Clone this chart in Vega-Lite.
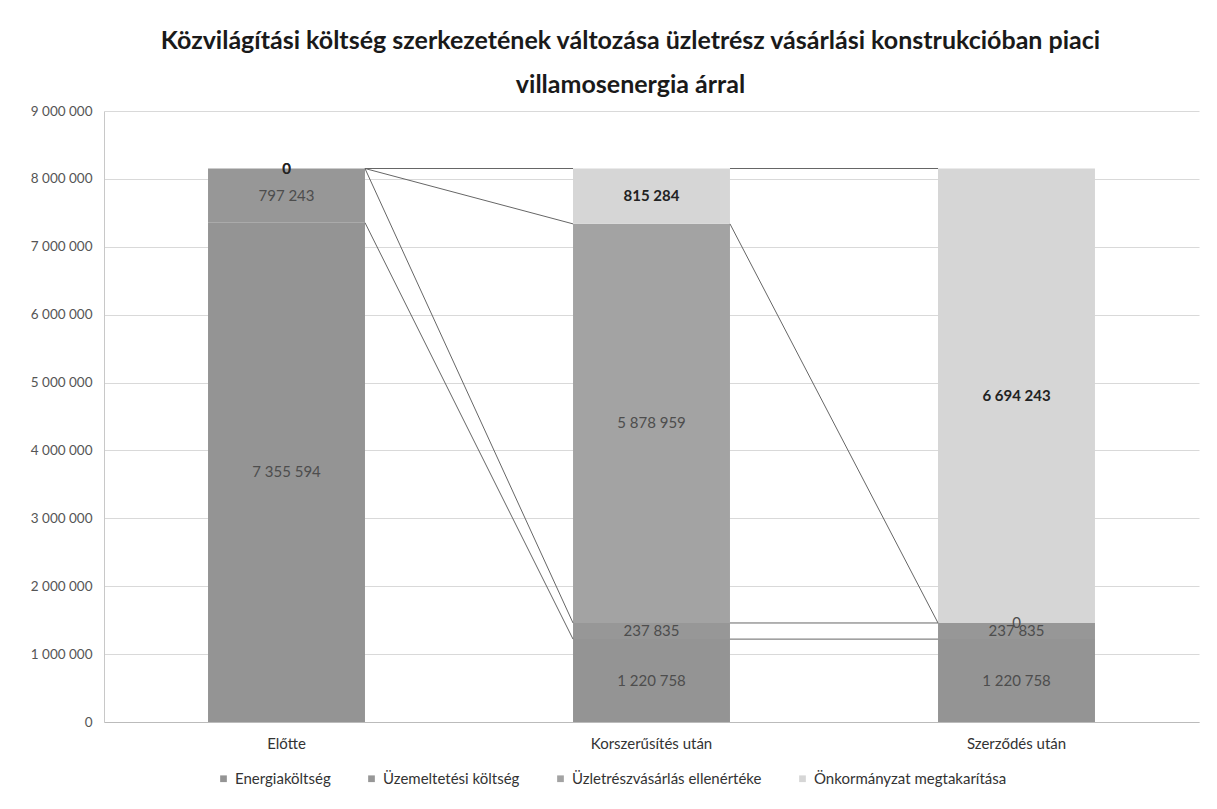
{
  "$schema": "https://vega.github.io/schema/vega-lite/v6.json",
  "width": 1095,
  "height": 611,
  "padding": {"left": 30, "top": 29, "right": 2, "bottom": 5},
  "background": "white",
  "config": {
    "locale": {"number": {"decimal": ",", "thousands": " ", "grouping": [3], "currency": ["", ""]}},
    "font": "Lato",
    "view": {"stroke": null}
  },
  "title": {
    "text": ["Közvilágítási költség szerkezetének változása üzletrész vásárlási konstrukcióban piaci", "villamosenergia árral"],
    "font": "Lato",
    "fontSize": 25,
    "fontWeight": "bold",
    "color": "#1a1a1a",
    "lineHeight": 44,
    "anchor": "middle",
    "frame": "group",
    "dx": -21,
    "offset": 6
  },
  "datasets": {
    "bars": [
      {"kat": "Előtte", "sorozat": "Energiaköltség", "sorrend": 1, "ertek": 7355594},
      {"kat": "Előtte", "sorozat": "Üzemeltetési költség", "sorrend": 2, "ertek": 797243},
      {"kat": "Előtte", "sorozat": "Üzletrészvásárlás ellenértéke", "sorrend": 3, "ertek": 0},
      {"kat": "Előtte", "sorozat": "Önkormányzat megtakarítása", "sorrend": 4, "ertek": 0},
      {"kat": "Korszerűsítés után", "sorozat": "Energiaköltség", "sorrend": 1, "ertek": 1220758},
      {"kat": "Korszerűsítés után", "sorozat": "Üzemeltetési költség", "sorrend": 2, "ertek": 237835},
      {"kat": "Korszerűsítés után", "sorozat": "Üzletrészvásárlás ellenértéke", "sorrend": 3, "ertek": 5878959},
      {"kat": "Korszerűsítés után", "sorozat": "Önkormányzat megtakarítása", "sorrend": 4, "ertek": 815284},
      {"kat": "Szerződés után", "sorozat": "Energiaköltség", "sorrend": 1, "ertek": 1220758},
      {"kat": "Szerződés után", "sorozat": "Üzemeltetési költség", "sorrend": 2, "ertek": 237835},
      {"kat": "Szerződés után", "sorozat": "Üzletrészvásárlás ellenértéke", "sorrend": 3, "ertek": 0},
      {"kat": "Szerződés után", "sorozat": "Önkormányzat megtakarítása", "sorrend": 4, "ertek": 6694243}
    ],
    "lines": [
      {"from": "Előtte", "to": "Korszerűsítés után", "y1": 7355594, "y2": 1220758},
      {"from": "Előtte", "to": "Korszerűsítés után", "y1": 8152837, "y2": 1458593},
      {"from": "Előtte", "to": "Korszerűsítés után", "y1": 8152837, "y2": 7337552},
      {"from": "Előtte", "to": "Korszerűsítés után", "y1": 8152837, "y2": 8152836},
      {"from": "Korszerűsítés után", "to": "Szerződés után", "y1": 1220758, "y2": 1220758},
      {"from": "Korszerűsítés után", "to": "Szerződés után", "y1": 1458593, "y2": 1458593},
      {"from": "Korszerűsítés után", "to": "Szerződés után", "y1": 7337552, "y2": 1458593},
      {"from": "Korszerűsítés után", "to": "Szerződés után", "y1": 8152836, "y2": 8152836}
    ]
  },
  "layer": [
    {
      "data": {"name": "bars"},
      "transform": [
        {"stack": "ertek", "groupby": ["kat"], "sort": [{"field": "sorrend", "order": "ascending"}], "as": ["s0", "s1"]}
      ],
      "mark": {"type": "bar"},
      "encoding": {
        "x": {
          "field": "kat", "type": "nominal", "sort": ["Előtte", "Korszerűsítés után", "Szerződés után"],
          "scale": {"paddingInner": 0.57, "paddingOuter": 0.285},
          "axis": {"title": null, "labelAngle": 0, "labelFontSize": 15, "labelColor": "#333", "labelPadding": 14, "ticks": false, "domainColor": "#bbb", "labelFont": "Lato"}
        },
        "y": {
          "field": "s0", "type": "quantitative",
          "scale": {"domain": [0, 9000000], "nice": false},
          "axis": {"title": null, "values": [0, 1000000, 2000000, 3000000, 4000000, 5000000, 6000000, 7000000, 8000000, 9000000], "labelOverlap": false, "format": ",.0f", "labelFontSize": 13.5, "labelColor": "#555", "labelPadding": 12, "ticks": false, "gridColor": "#d9d9d9", "domainColor": "#c8c8c8"}
        },
        "y2": {"field": "s1"},
        "color": {
          "field": "sorozat", "type": "nominal",
          "scale": {
            "domain": ["Energiaköltség", "Üzemeltetési költség", "Üzletrészvásárlás ellenértéke", "Önkormányzat megtakarítása"],
            "range": ["#949494", "#979797", "#a3a3a3", "#d6d6d6"]
          },
          "legend": {
            "title": null, "orient": "none", "legendX": 112, "legendY": 660, "direction": "horizontal", "symbolType": "square", "symbolSize": 45,
            "labelFontSize": 15, "labelColor": "#333", "columnPadding": 33, "labelLimit": 400, "symbolStrokeWidth": 0, "labelFont": "Lato"
          }
        },
        "order": {"field": "sorrend", "type": "quantitative"}
      }
    },
    {
      "data": {"name": "lines"},
      "mark": {"type": "rule", "color": "#666", "strokeWidth": 1},
      "encoding": {
        "x": {"field": "from", "type": "nominal", "bandPosition": 1, "sort": ["Előtte", "Korszerűsítés után", "Szerződés után"]},
        "x2": {"field": "to", "bandPosition": 0},
        "y": {"field": "y1", "type": "quantitative"},
        "y2": {"field": "y2"}
      }
    },
    {
      "data": {"name": "bars"},
      "transform": [
        {"stack": "ertek", "groupby": ["kat"], "sort": [{"field": "sorrend", "order": "ascending"}], "as": ["s0", "s1"]},
        {"calculate": "(datum.s0 + datum.s1) / 2", "as": "mid"},
        {"filter": "datum.sorozat != 'Önkormányzat megtakarítása'"}
      ],
      "mark": {"type": "text", "fontSize": 15, "color": "#4d4d4d", "font": "Lato"},
      "encoding": {
        "x": {"field": "kat", "type": "nominal", "sort": ["Előtte", "Korszerűsítés után", "Szerződés után"], "bandPosition": 0.5},
        "y": {"field": "mid", "type": "quantitative"},
        "text": {"field": "ertek", "type": "quantitative", "format": ",.0f"}
      }
    },
    {
      "data": {"name": "bars"},
      "transform": [
        {"stack": "ertek", "groupby": ["kat"], "sort": [{"field": "sorrend", "order": "ascending"}], "as": ["s0", "s1"]},
        {"calculate": "(datum.s0 + datum.s1) / 2", "as": "mid"},
        {"filter": "datum.sorozat == 'Önkormányzat megtakarítása'"}
      ],
      "mark": {"type": "text", "fontSize": 15, "fontWeight": "bold", "color": "#222", "font": "Lato"},
      "encoding": {
        "x": {"field": "kat", "type": "nominal", "sort": ["Előtte", "Korszerűsítés után", "Szerződés után"], "bandPosition": 0.5},
        "y": {"field": "mid", "type": "quantitative"},
        "text": {"field": "ertek", "type": "quantitative", "format": ",.0f"}
      }
    }
  ]
}
